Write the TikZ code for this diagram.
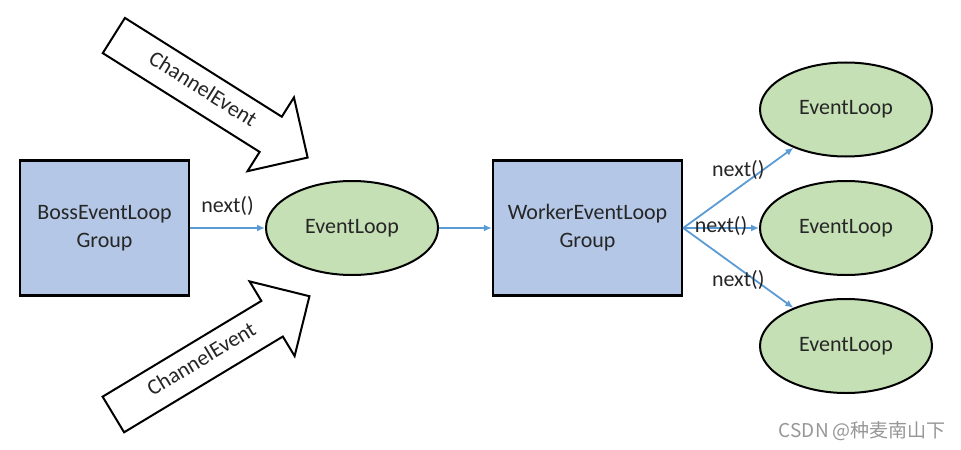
\documentclass[tikz,border=0pt]{standalone}
\usepackage{fontspec}
\setmainfont{Carlito}
\newfontfamily\cjkfont{Noto Sans CJK SC}
\usetikzlibrary{arrows.meta,shapes.geometric,shapes.arrows}
\definecolor{GroupBlue}{RGB}{180,199,231}
\definecolor{LoopGreen}{RGB}{197,224,180}
\definecolor{LinkBlue}{RGB}{91,155,213}
\definecolor{MarkGray}{RGB}{150,150,150}
\definecolor{TextBlack}{RGB}{38,38,38}
\tikzset{
  group/.style={draw,line width=1.2pt,fill=GroupBlue,minimum height=67.5pt,
    inner sep=0pt,align=center},
  loop/.style={ellipse,draw,line width=1pt,fill=LoopGreen,minimum width=86pt,
    minimum height=47pt,inner sep=0pt},
  link/.style={->,draw=LinkBlue,line width=0.9pt},
  event/.style={single arrow,draw,line width=1pt,fill=white,text height=6pt,
    text depth=1pt,inner ysep=6.4pt,single arrow head extend=11.4pt,
    minimum height=114.5pt,anchor=tail}
}
\begin{document}
\begin{tikzpicture}[x=0.5pt,y=-0.5pt,>={Latex[length=4pt,width=3.5pt]},
    font=\fontsize{11}{14}\selectfont,text=TextBlack]
  \useasboundingbox (0,0) rectangle (961,449);
  % groups and loops
  \node[group,minimum width=84.5pt] (boss) at (104.5,228) {BossEventLoop\\Group};
  \node[loop] (loop) at (352,228) {EventLoop};
  \node[group,minimum width=94.5pt] (worker) at (587.5,228) {WorkerEventLoop\\Group};
  \node[loop] (loopA) at (846,109.5) {EventLoop};
  \node[loop] (loopB) at (846,228) {EventLoop};
  \node[loop] (loopC) at (846,346) {EventLoop};
  % incoming events
  \node[event,rotate=-32.2] (evtop) at (113,35) {ChannelEvent};
  \node[event,rotate=31.1] (evbot) at (112.5,415) {ChannelEvent};
  % links
  \draw[link] (boss.east) -- node[yshift=11pt] (nextA) {next()} (loop.west);
  \draw[link] (loop.east) -- (worker.west);
  \draw[link] (worker.east) -- node[yshift=8.75pt] (nextB) {next()} (loopA);
  \draw[link] (worker.east) -- node[yshift=1pt] (nextC) {next()} (loopB.west);
  \draw[link] (worker.east) -- node[yshift=-6pt] (nextD) {next()} (loopC);
  \node[MarkGray,anchor=east,font=\cjkfont\fontsize{9.5}{11}\selectfont] (mark)
    at (953,431) {CSDN @种麦南山下};
\end{tikzpicture}
\end{document}
